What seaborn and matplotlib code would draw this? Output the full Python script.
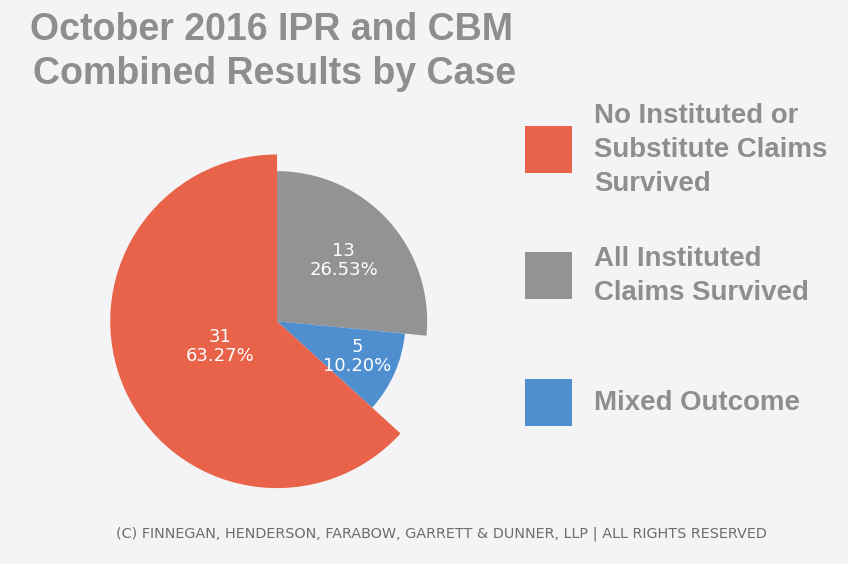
"""
October 2016 IPR and CBM combined results by case - pie with varying slice radii.
"""

import matplotlib.pyplot as plt
import numpy as np
import seaborn as sns
from matplotlib.patches import Rectangle

sns.set_theme(style='white')
plt.rcParams['font.family'] = ['Liberation Sans', 'DejaVu Sans']

# Data (drawing order: clockwise from 12 o'clock)
outcomes = ['All Instituted\nClaims Survived', 'Mixed Outcome',
            'No Instituted or\nSubstitute Claims\nSurvived']
counts = [13, 5, 31]
colors = ['#939393', '#4f8fd0', '#e8634a']
radii = [0.9, 0.77, 1.0]

# Legend order as shown on the right
legend_labels = ['No Instituted or\nSubstitute Claims\nSurvived',
                 'All Instituted\nClaims Survived',
                 'Mixed Outcome']
legend_colors = ['#e8634a', '#939393', '#4f8fd0']

BG = '#f4f4f6'
TXT = '#8e8e8e'

fig = plt.figure(figsize=(8.48, 5.64), dpi=100, facecolor=BG)

# Pie axes (square, centred at ~ (277, 321) px)
ax = fig.add_axes([0.1103, 0.105, 0.4328, 0.6507])
ax.set_facecolor(BG)
wedges, _ = ax.pie(counts, colors=colors, startangle=90, counterclock=False,
                   radius=1.0, wedgeprops=dict(linewidth=0))
for w, r in zip(wedges, radii):
    w.set_radius(r)
ax.set_xlim(-1.1, 1.1)
ax.set_ylim(-1.1, 1.1)
ax.set_aspect('equal')
ax.axis('off')

total = sum(counts)
label_dist = [0.6, 0.68, 0.37]
for w, c, r, d in zip(wedges, counts, radii, label_dist):
    mid = np.deg2rad((w.theta1 + w.theta2) / 2)
    ax.text(d * r * np.cos(mid), d * r * np.sin(mid),
            f'{c}\n{c / total * 100:.2f}%', color='white', ha='center',
            va='center', fontsize=13, family='DejaVu Sans', linespacing=1.1)

# Title
fig.text(271 / 848, 1 - 30 / 564, 'October 2016 IPR and CBM', ha='center',
         va='center', fontsize=27, fontweight='bold', color=TXT)
fig.text(275 / 848, 1 - 74 / 564, 'Combined Results by Case', ha='center',
         va='center', fontsize=27, fontweight='bold', color=TXT)

# Legend drawn by hand
square_tops = [126, 252, 379]
for lab, col, top in zip(legend_labels, legend_colors, square_tops):
    fig.patches.append(Rectangle((525 / 848, 1 - (top + 47) / 564), 47 / 848, 47 / 564,
                                 transform=fig.transFigure, facecolor=col,
                                 edgecolor='none'))
    fig.text(594 / 848, 1 - (top + 24) / 564, lab, ha='left', va='center',
             fontsize=19.9, fontweight='bold', color=TXT, linespacing=1.42)

# Footer
fig.text(441 / 848, 1 - 534 / 564,
         '(C) FINNEGAN, HENDERSON, FARABOW, GARRETT & DUNNER, LLP | ALL RIGHTS RESERVED',
         ha='center', va='center', fontsize=10.4, color='#6d6d6d', family='DejaVu Sans')

fig.savefig('out.png', dpi=100, facecolor=BG)
